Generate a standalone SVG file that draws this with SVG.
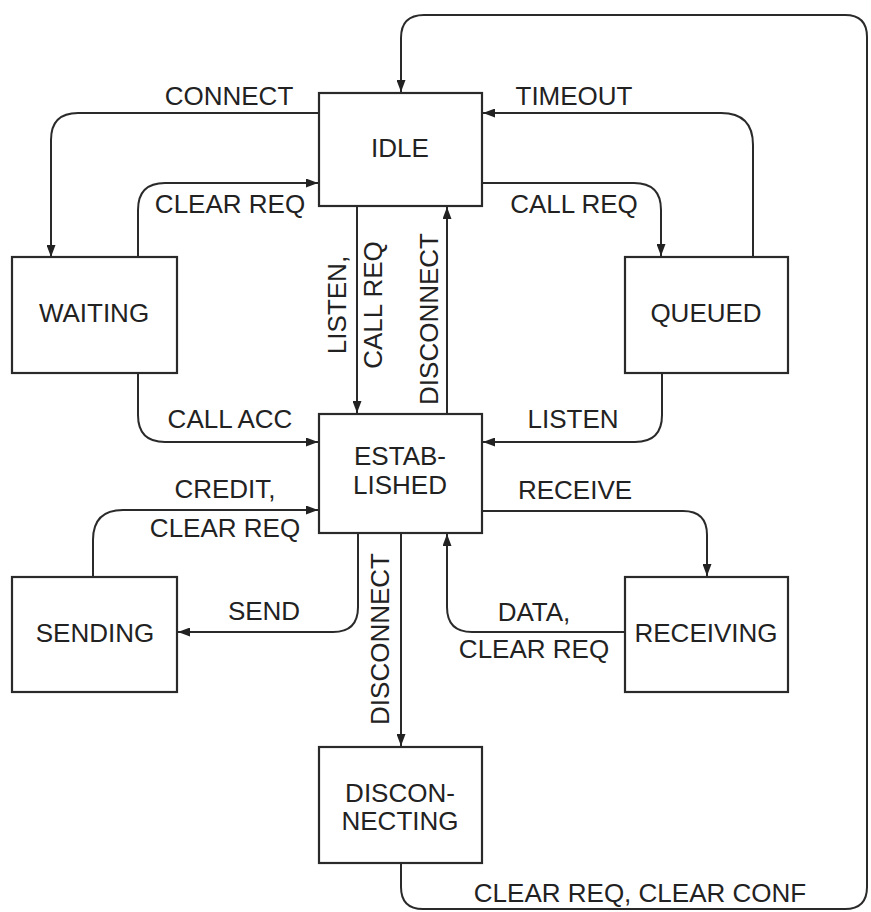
<svg xmlns="http://www.w3.org/2000/svg" width="871" height="912" viewBox="0 0 871 912">
<style>
.box{fill:#fff;stroke:#2a2a2a;stroke-width:2.2}
.lbl{font-family:"Liberation Sans",Arial,sans-serif;font-size:26px;fill:#222;text-anchor:middle}
.edge{fill:none;stroke:#2a2a2a;stroke-width:2}
</style>
<defs>
<marker id="ah" markerUnits="userSpaceOnUse" markerWidth="13" markerHeight="9" refX="12" refY="4.5" orient="auto">
<path d="M0,0 L12,4.5 L0,9 z" fill="#222"/>
</marker>
</defs>
<rect width="871" height="912" fill="#fff"/>
<g id="connectors">
<path class="edge" marker-end="url(#ah)" d="M401 863 V887 Q401 909 423 909 H845 Q867 909 867 887 V37 Q867 15 845 15 H424 Q401 15 401 38 V92"/>
<path class="edge" marker-end="url(#ah)" d="M319 113 H78 Q51 113 51 140 V257"/>
<path class="edge" marker-end="url(#ah)" d="M138 257 V210 Q138 183 165 183 H318"/>
<path class="edge" marker-end="url(#ah)" d="M753 257 V145 Q753 113 721 113 H483"/>
<path class="edge" marker-end="url(#ah)" d="M482 183 H634 Q661 183 661 210 V256"/>
<path class="edge" marker-end="url(#ah)" d="M357 206 V413"/>
<path class="edge" marker-end="url(#ah)" d="M447 414 V207"/>
<path class="edge" marker-end="url(#ah)" d="M138 373 V415 Q138 442 165 442 H318"/>
<path class="edge" marker-end="url(#ah)" d="M662 373 V415 Q662 442 635 442 H483"/>
<path class="edge" marker-end="url(#ah)" d="M93 577 V540 Q93 510 123 510 H318"/>
<path class="edge" marker-end="url(#ah)" d="M482 511 H683 Q707 511 707 535 V576"/>
<path class="edge" marker-end="url(#ah)" d="M358 533 V607 Q358 632 333 632 H178"/>
<path class="edge" marker-end="url(#ah)" d="M401 533 V746"/>
<path class="edge" marker-end="url(#ah)" d="M625 632 H472 Q447 632 447 607 V534"/>
<text class="lbl" x="229" y="105">CONNECT</text>
<text class="lbl" x="230" y="213">CLEAR REQ</text>
<text class="lbl" x="574" y="105">TIMEOUT</text>
<text class="lbl" x="574" y="213">CALL REQ</text>
<text class="lbl" transform="translate(346,305) rotate(-90)">LISTEN,</text>
<text class="lbl" transform="translate(382,305) rotate(-90)">CALL REQ</text>
<text class="lbl" transform="translate(438,319) rotate(-90)">DISCONNECT</text>
<text class="lbl" x="230" y="428">CALL ACC</text>
<text class="lbl" x="573" y="428">LISTEN</text>
<text class="lbl" x="225" y="498">CREDIT,</text>
<text class="lbl" x="225" y="537">CLEAR REQ</text>
<text class="lbl" x="575" y="499">RECEIVE</text>
<text class="lbl" x="264" y="620">SEND</text>
<text class="lbl" transform="translate(389,639) rotate(-90)">DISCONNECT</text>
<text class="lbl" x="534" y="621">DATA,</text>
<text class="lbl" x="534" y="658">CLEAR REQ</text>
<text class="lbl" x="640" y="902">CLEAR REQ, CLEAR CONF</text>
</g>
<g id="idle"><rect class="box" x="319" y="93" width="163" height="113"/><text class="lbl" x="400" y="157">IDLE</text></g>
<g id="waiting"><rect class="box" x="12" y="257" width="165" height="116"/><text class="lbl" x="94" y="322">WAITING</text></g>
<g id="queued"><rect class="box" x="625" y="257" width="163" height="116"/><text class="lbl" x="706" y="322">QUEUED</text></g>
<g id="established"><rect class="box" x="319" y="414" width="163" height="119"/><text class="lbl" x="400" y="465">ESTAB-</text><text class="lbl" x="400" y="494">LISHED</text></g>
<g id="sending"><rect class="box" x="12" y="577" width="165" height="115"/><text class="lbl" x="95" y="642">SENDING</text></g>
<g id="receiving"><rect class="box" x="625" y="577" width="163" height="115"/><text class="lbl" x="706" y="642">RECEIVING</text></g>
<g id="disconnecting"><rect class="box" x="319" y="747" width="163" height="116"/><text class="lbl" x="400" y="802">DISCON-</text><text class="lbl" x="400" y="830">NECTING</text></g>
</svg>
